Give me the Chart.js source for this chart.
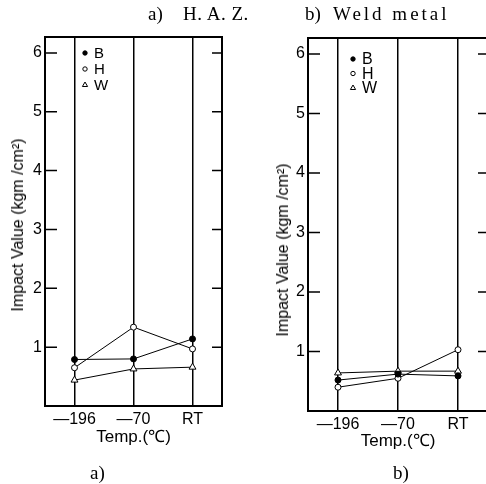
<!DOCTYPE html>
<html>
<head>
<meta charset="utf-8">
<script src="https://cdn.jsdelivr.net/npm/chart.js@4.4.0/dist/chart.umd.min.js"></script>
<style>
  html, body { margin: 0; padding: 0; background: #fff; overflow: hidden; width: 486px; height: 484px; }
  .box { position: absolute; top: 0; height: 484px; }
  .txt { position: absolute; color: #000; white-space: nowrap; line-height: 1; }
  .serif { font-family: "Liberation Serif", "DejaVu Serif", serif; font-size: 19px; }
  .ylab { font-family: "Liberation Sans", Arial, sans-serif; font-size: 16px;
          transform: translate(-50%, -50%) rotate(-90deg); }
</style>
</head>
<body>
<div class="box" style="left:0;width:243px"><canvas id="hazChart"></canvas></div>
<div class="box" style="left:243px;width:250px"><canvas id="weldChart"></canvas></div>

<div class="txt serif" style="left:148px;top:4px">a)</div>
<div class="txt serif" style="left:183px;top:4px;letter-spacing:0.5px">H. A. Z.</div>
<div class="txt serif" style="left:305px;top:4px">b)</div>
<div class="txt serif" style="left:333px;top:4px;letter-spacing:3px">Weld metal</div>

<div class="txt ylab" style="left:18px;top:225px">Impact Value (kgm /cm²)</div>
<div class="txt ylab" style="left:283px;top:250px">Impact Value (kgm /cm²)</div>

<div class="txt serif" style="left:90px;top:463px">a)</div>
<div class="txt serif" style="left:393px;top:463px">b)</div>

<script>
// temperatures on the x axis
const temps = ['\u2014196', '\u201470', 'RT'];
const yTickValues = [1, 2, 3, 4, 5, 6];
const seriesNames = ['B', 'H', 'W'];

// a) H.A.Z.
const hazB = [0.79, 0.80, 1.14];
const hazH = [0.65, 1.34, 0.97];
const hazW = [0.44, 0.63, 0.66];

// b) Weld metal
const weldB = [0.52, 0.62, 0.59];
const weldH = [0.40, 0.55, 1.03];
const weldW = [0.64, 0.67, 0.67];

// frame, inward ticks and the little legend inside the plot
const framePlugin = {
    id: 'frame',
    afterDraw(chart, args, opts) {
        const ctx = chart.ctx;
        const a = chart.chartArea;
        const y = chart.scales.y;
        ctx.save();
        ctx.strokeStyle = '#000';
        ctx.lineWidth = 2;
        ctx.strokeRect(a.left, a.top, a.right - a.left, a.bottom - a.top);
        ctx.lineWidth = 1.5;
        yTickValues.forEach(function(v) {
            const py = y.getPixelForValue(v);
            ctx.beginPath();
            ctx.moveTo(a.left, py);
            ctx.lineTo(a.left + 12, py);
            ctx.moveTo(a.right, py);
            ctx.lineTo(a.right - 10, py);
            ctx.stroke();
        });

        // legend
        ctx.font = opts.font;
        ctx.textBaseline = 'middle';
        ctx.fillStyle = '#000';
        chart.data.datasets.forEach(function(ds, i) {
            const mx = a.left + opts.dx;
            const my = a.top + opts.dy + i * opts.step;
            ctx.lineWidth = 1;
            ctx.strokeStyle = '#000';
            ctx.fillStyle = ds.pointBackgroundColor;
            Chart.helpers.drawPoint(ctx, {
                pointStyle: ds.pointStyle,
                radius: ds.pointStyle === 'triangle' ? 3 : 2.2,
                borderWidth: 1,
                rotation: 0
            }, mx, my);
            ctx.fillStyle = '#000';
            ctx.fillText(ds.label, mx + opts.textGap, my + 1);
        });
        ctx.restore();
    }
};

function makeDataset(label, values, style, fill) {
    return {
        label: label,
        data: values,
        borderColor: '#000',
        borderWidth: 1,
        tension: 0,
        pointStyle: style,
        pointRadius: style === 'triangle' ? 4 : 3,
        pointBorderWidth: 1,
        pointBorderColor: '#000',
        pointBackgroundColor: fill
    };
}

function makeChart(id, b, h, w, cfg) {
    const ctx = document.getElementById(id).getContext('2d');
    return new Chart(ctx, {
        type: 'line',
        data: {
            labels: temps,
            datasets: [
                makeDataset(seriesNames[0], b, 'circle', '#000'),
                makeDataset(seriesNames[1], h, 'circle', '#fff'),
                makeDataset(seriesNames[2], w, 'triangle', '#fff')
            ]
        },
        options: {
            responsive: true,
            maintainAspectRatio: false,
            animation: false,
            layout: { padding: { top: cfg.top, right: cfg.right, left: 0, bottom: 0 } },
            plugins: {
                legend: { display: false },
                tooltip: { enabled: false },
                frame: cfg.legend
            },
            scales: {
                x: {
                    type: 'category',
                    offset: true,
                    border: { display: false },
                    grid: { offset: false, color: '#000', lineWidth: 1.5, drawTicks: false },
                    ticks: {
                        color: '#000', padding: 4, maxRotation: 0,
                        font: { family: 'Liberation Sans', size: 16 }
                    },
                    title: {
                        display: true, text: 'Temp.(\u2103)', color: '#000',
                        font: { family: 'Liberation Sans', size: 17 },
                        padding: { top: 0, bottom: cfg.titlePad }
                    },
                    afterFit: function(scale) { scale.height = cfg.xHeight; }
                },
                y: {
                    min: 0,
                    max: 6.27,
                    border: { display: false },
                    grid: { display: false, drawTicks: false },
                    ticks: {
                        stepSize: 1, includeBounds: false, color: '#000', padding: 3,
                        font: { family: 'Liberation Sans', size: 16 },
                        callback: function(v) { return yTickValues.indexOf(v) >= 0 ? String(v) : ''; }
                    },
                    afterFit: function(scale) { scale.width = cfg.yWidth; }
                }
            }
        },
        plugins: [framePlugin]
    });
}

makeChart('hazChart', hazB, hazH, hazW, {
    top: 37, right: 21, yWidth: 45, xHeight: 78, titlePad: 36,
    legend: { dx: 40, dy: 16, step: 16, textGap: 9, font: '15px "Liberation Sans"' }
});
makeChart('weldChart', weldB, weldH, weldW, {
    top: 38, right: 5, yWidth: 65, xHeight: 73, titlePad: 32,
    legend: { dx: 45, dy: 21, step: 14.5, textGap: 9, font: '16px "Liberation Sans"' }
});
</script>
</body>
</html>
